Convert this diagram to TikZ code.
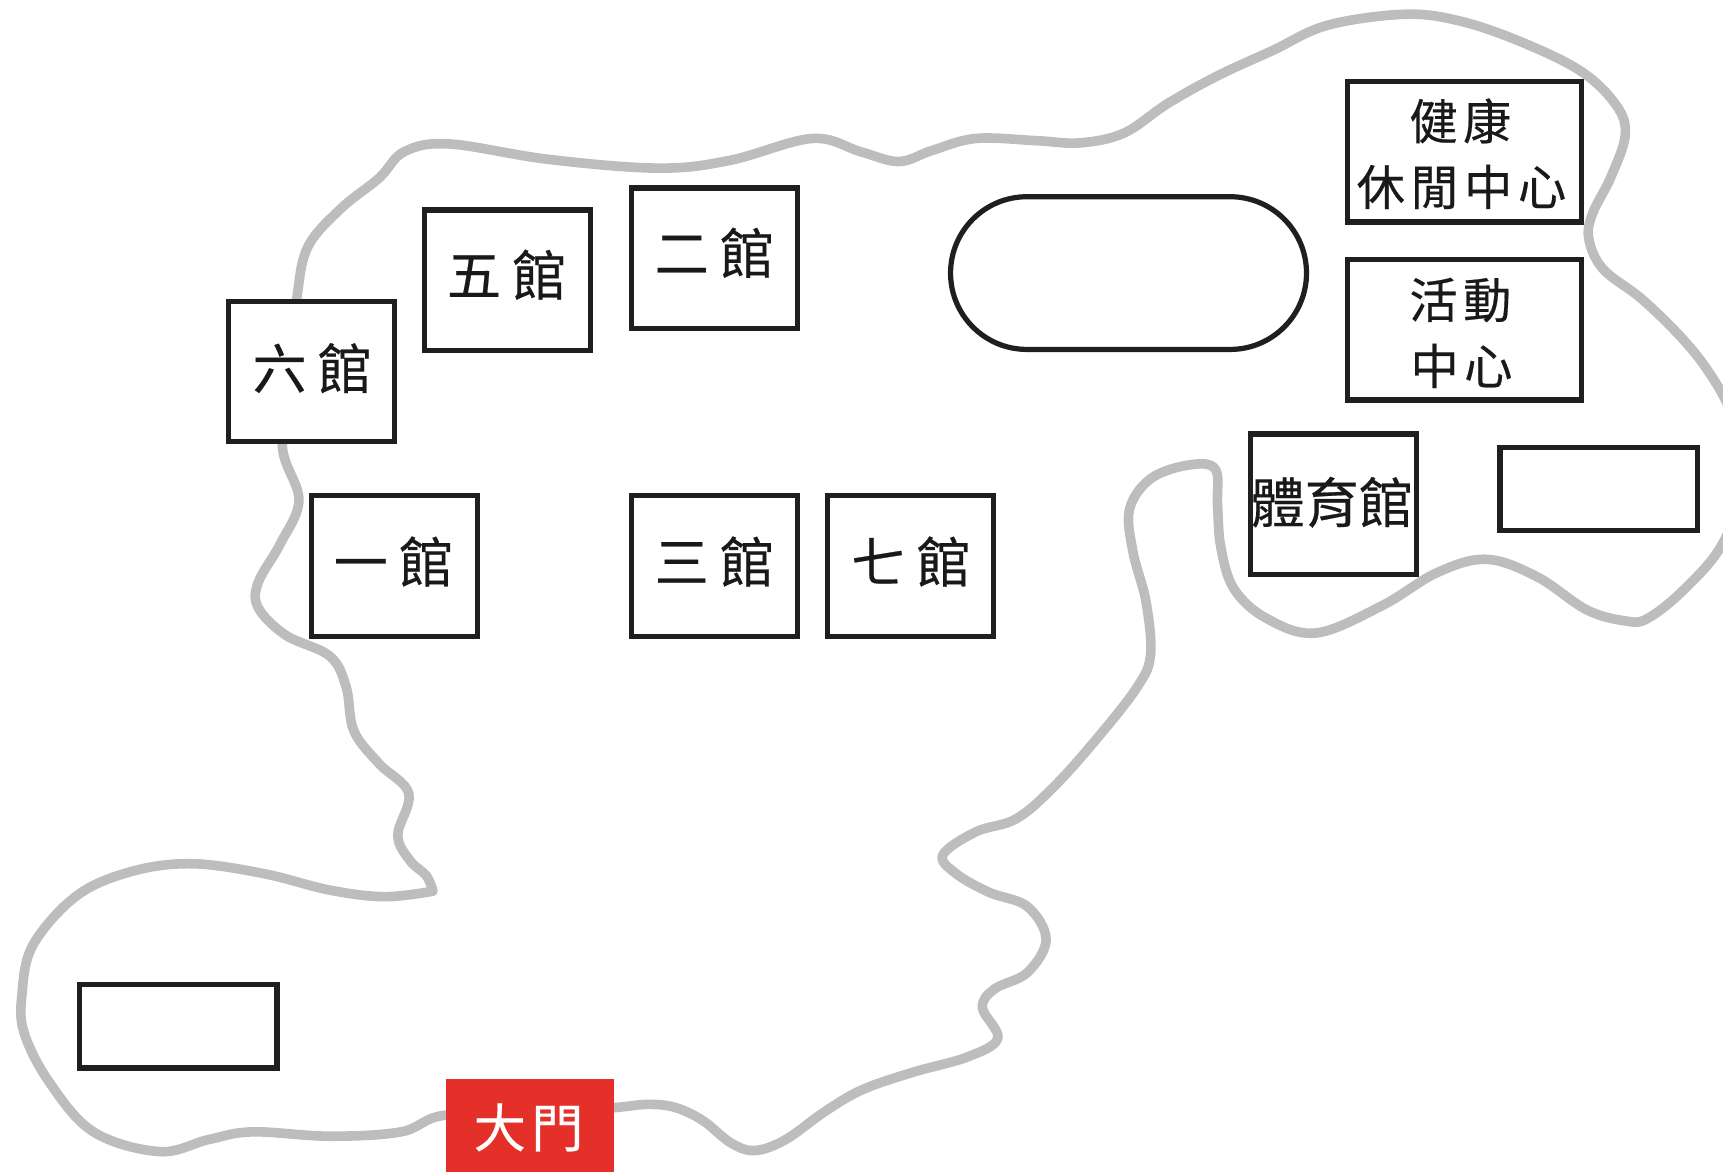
\documentclass[tikz,border=0pt]{standalone}
\usepackage{fontspec}
\setmainfont[FakeBold=0.4]{Noto Sans CJK TC}
\usetikzlibrary{shapes.misc}
\definecolor{gateRed}{HTML}{E5302A}
\tikzset{
  site/.style={draw=black!88,line width=0.095cm,fill=white,inner sep=0pt,rectangle},
  hall/.style={site,minimum width=3.02cm,minimum height=2.56cm},
  wide/.style={site,minimum width=4.26cm,minimum height=2.56cm},
  blank/.style={site,minimum width=3.6cm,minimum height=1.52cm},
  lab/.style={inner sep=0pt,text=black!90,font=\fontsize{28}{28}\selectfont},
  labs/.style={inner sep=0pt,text=black!90,font=\fontsize{25}{25}\selectfont},
  border/.style={draw=black!26,line width=0.175cm,line join=round,line cap=round}
}
\newcommand{\gp}{\hspace{0.2cm}}
\begin{document}
\begin{tikzpicture}[x=0.02cm,y=-0.02cm]
\useasboundingbox (0,0) rectangle (1568,1066);
\clip (0,0) rectangle (1568,1066);
\draw[border] plot[smooth,tension=0.6] coordinates {
(394,811)(388,797)(373,783)(362,760)(372,722)(345,695)(322,665)(315,625)(300,597)(260,578)(235,553)(235,530)(255,495)(272,455)(257,407)
(262,340)(270,272)(280,225)(310,190)(345,162)(368,138)(409,131)(499,145)(599,153)(664,146)(739,126)(783,138)(818,147)(848,137)(888,126)(943,128)(983,130)(1023,121)(1063,94)(1108,69)(1158,46)(1208,23)(1278,13)(1328,19)(1384,38)(1439,65)(1471,96)(1479,123)(1466,161)(1449,195)(1446,218)(1459,245)(1494,272)(1529,306)(1554,337)(1575,375)(1590,430)(1568,494)(1533,536)(1499,563)(1479,565)(1444,555)(1399,525)(1353,509)(1308,521)(1258,551)(1198,576)(1153,563)(1123,536)(1111,498)(1108,460)(1106,427)(1083,423)(1048,435)(1028,463)(1031,502)(1043,548)(1047,596)(1035,625)(1000,670)(960,715)(925,745)(888,757)(858,778)(870,795)(900,812)(935,825)(952,855)(935,885)(905,900)(894,917)(908,945)(880,962)(830,976)(784,992)(750,1012)(715,1037)(687,1047)(665,1040)(640,1020)(615,1008)(590,1005)(559,1008)(480,1015)(404,1015)(365,1030)(300,1034)(230,1030)(190,1037)(145,1048)(85,1030)(45,985)(22,940)(20,905)(30,860)(70,815)(120,793)(175,786)(240,795)(300,810)(350,816)(394,811)};
\node[hall] (liu) at (283.5,338) {};
\node[hall] (wu) at (462,255) {};
\node[hall] (er) at (650,235) {};
\node[hall] (yi) at (359,515) {};
\node[hall] (san) at (650,515) {};
\node[hall] (qi) at (828.5,515) {};
\node[hall] (ti) at (1213.5,459) {};
\node[wide] (jk) at (1332.5,138) {};
\node[wide] (hd) at (1332.5,300) {};
\node[blank] (bl1) at (1455,445) {};
\node[blank] (bl2) at (162,934) {};
\node[site,rounded rectangle,minimum width=6.48cm,minimum height=2.78cm] (track) at (1027,248.5) {};
\node[fill=gateRed,inner sep=0pt,minimum width=3.06cm,minimum height=1.7cm] (gate) at (482.5,1024) {};
\node[lab] (liut) at (284,335) {六\gp 館};
\node[lab] (wut) at (461,250) {五\gp 館};
\node[lab] (ert) at (650,230) {二\gp 館};
\node[lab] (yit) at (358,511) {一\gp 館};
\node[lab] (sant) at (650,511) {三\gp 館};
\node[lab] (qit) at (829,511) {七\gp 館};
\node[lab] (tit) at (1212,457) {體育館};
\node[labs] (jk1) at (1329,110) {健\hspace{0.1cm}康};
\node[labs] (jk2) at (1330,170) {休\hspace{0.1cm}閒\hspace{0.1cm}中\hspace{0.1cm}心};
\node[labs] (hd1) at (1329,273) {活\hspace{0.1cm}動};
\node[labs] (hd2) at (1330,333) {中\hspace{0.1cm}心};
\node[lab,text=white,font=\fontsize{27}{27}\selectfont] (gatet) at (481,1026) {大\hspace{0.1cm}門};
\end{tikzpicture}
\end{document}
